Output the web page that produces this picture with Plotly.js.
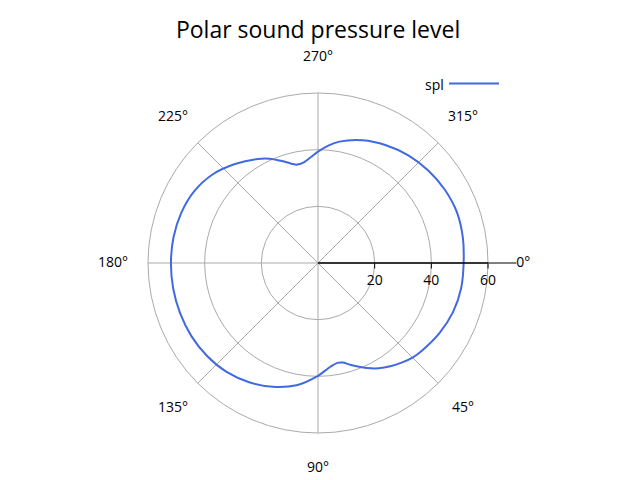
<!DOCTYPE html>
<html>
<head>
<meta charset="utf-8">
<script src="https://cdn.plot.ly/plotly-3.0.1.min.js"></script>
<style>html,body{margin:0;padding:0;background:#fff;}#chart{width:640px;height:480px;}</style>
</head>
<body>
<div id="chart"></div>
<script>
// Angle in degrees (clockwise from right) and sound pressure level
var thetaDeg = [0, 10, 20, 30, 40, 45, 50, 55, 60, 65, 70, 73, 76, 79, 83, 86, 90, 100, 110, 120, 130, 140, 150, 160, 170, 180, 190, 200, 210, 220, 230, 240, 245, 250, 255, 258, 262, 266, 270, 275, 280, 290, 300, 310, 320, 330, 340, 350, 360];
var splValues = [51.4, 51.3, 50.7, 49.5, 48.0, 47.2, 45.9, 44.5, 42.9, 40.9, 38.7, 37.4, 36.2, 35.9, 36.8, 38.0, 39.8, 43.8, 46.5, 48.6, 50.2, 51.1, 51.6, 51.8, 51.9, 51.9, 51.8, 51.4, 50.5, 48.6, 45.6, 42.4, 40.6, 38.4, 36.3, 35.5, 35.9, 37.4, 39.3, 41.6, 43.5, 46.1, 48.0, 49.6, 50.8, 51.7, 52.2, 51.9, 51.4];
var radialTicks = [20, 40, 60];
var angularTicks = [0, 45, 90, 135, 180, 225, 270, 315];
var angularTickText = ['0°', '45°', '90°', '135°', '180°', '225°', '270°', '315°'];
var radialMax = 60;
var radialAxisLineMax = 70;
var labelRadius = 72.4;   // angular tick labels are centred on this radius
var labelRangeMax = 75;

var fontFam = 'Open Sans, Noto Sans, sans-serif';

// geometry of the plot disc (pixels)
var cx = 318, cy = 217, rad = 170;
function dom(rMax) {
  var R = rad * rMax / radialMax;
  return {x: [(cx - R) / 640, (cx + R) / 640], y: [(cy - R) / 480, (cy + R) / 480]};
}
function hiddenAngular() {
  return {direction: 'clockwise', rotation: 0, showline: false, showgrid: false, showticklabels: false, ticks: ''};
}

var traces = [
  {
    type: 'scatterpolar',
    mode: 'lines',
    r: splValues,
    theta: thetaDeg,
    name: '',
    line: {color: '#4169e1', width: 2, shape: 'spline', smoothing: 1},
    showlegend: true,
    subplot: 'polar'
  },
  {
    type: 'scatterpolar',
    mode: 'lines',
    r: [],
    theta: [],
    showlegend: false,
    hoverinfo: 'skip',
    subplot: 'polar2'
  },
  {
    type: 'scatterpolar',
    mode: 'text',
    r: angularTicks.map(function () { return labelRadius; }),
    theta: angularTicks,
    text: angularTickText,
    textposition: 'middle center',
    textfont: {family: fontFam, size: 14, color: '#000000'},
    showlegend: false,
    hoverinfo: 'skip',
    cliponaxis: false,
    subplot: 'polar3'
  }
];

var layout = {
  width: 640,
  height: 480,
  margin: {l: 0, r: 0, t: 0, b: 0},
  paper_bgcolor: '#ffffff',
  font: {family: fontFam, size: 14, color: '#000000'},
  title: {
    text: 'Polar sound pressure level',
    font: {family: fontFam, size: 23, color: '#000000'},
    x: 0.497, xanchor: 'center', xref: 'paper',
    y: 1 - 30 / 480, yanchor: 'middle', yref: 'container'
  },
  showlegend: true,
  legend: {
    x: 444 / 640, xanchor: 'left',
    y: 1 - 84 / 480, yanchor: 'middle',
    bgcolor: 'rgba(0,0,0,0)',
    itemwidth: 50,
    font: {family: fontFam, size: 14}
  },
  annotations: [{
    text: 'spl',
    xref: 'paper', yref: 'paper',
    x: 446 / 640, xanchor: 'right',
    y: 1 - 84 / 480, yanchor: 'middle',
    showarrow: false,
    font: {family: fontFam, size: 14, color: '#000000'}
  }],
  polar: {
    domain: dom(radialMax),
    bgcolor: '#ffffff',
    radialaxis: {
      range: [0, radialMax],
      angle: 0,
      tickmode: 'array',
      tickvals: radialTicks,
      showline: true,
      linecolor: '#000000',
      linewidth: 1,
      ticks: 'outside',
      ticklen: 5,
      tickcolor: '#000000',
      showgrid: true,
      gridcolor: '#aaaaaa',
      gridwidth: 1,
      tickfont: {family: fontFam, size: 14, color: '#000000'}
    },
    angularaxis: {
      direction: 'clockwise',
      rotation: 0,
      tickmode: 'array',
      tickvals: angularTicks,
      showticklabels: false,
      showline: true,
      linecolor: '#aaaaaa',
      linewidth: 1,
      showgrid: true,
      gridcolor: '#aaaaaa',
      gridwidth: 1,
      ticks: ''
    }
  },
  polar2: {
    domain: dom(radialAxisLineMax),
    bgcolor: 'rgba(0,0,0,0)',
    radialaxis: {
      range: [0, radialAxisLineMax],
      angle: 0,
      showline: true,
      linecolor: '#000000',
      linewidth: 1,
      showticklabels: false,
      ticks: '',
      showgrid: false
    },
    angularaxis: hiddenAngular()
  },
  polar3: {
    domain: dom(labelRangeMax),
    bgcolor: 'rgba(0,0,0,0)',
    radialaxis: {
      range: [0, labelRangeMax],
      visible: false,
      showline: false,
      showticklabels: false,
      ticks: '',
      showgrid: false
    },
    angularaxis: hiddenAngular()
  }
};

Plotly.newPlot('chart', traces, layout, {displayModeBar: false, staticPlot: true});
</script>
</body>
</html>
